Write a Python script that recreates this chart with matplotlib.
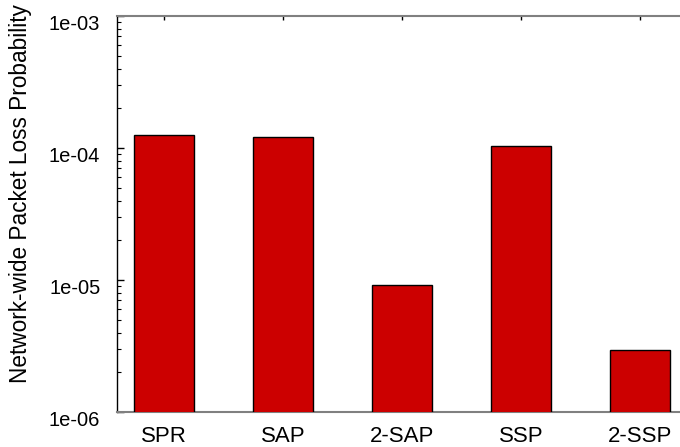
import matplotlib
matplotlib.use("Agg")
import matplotlib.pyplot as plt
import matplotlib.ticker as mticker
import matplotlib.transforms as mtrans
import numpy as np

plt.rcParams["font.family"] = ["Liberation Sans", "DejaVu Sans"]

# packet loss per routing scheme
schemes = ["SPR", "SAP", "2-SAP", "SSP", "2-SSP"]
loss = [1.25e-4, 1.21e-4, 9.2e-6, 1.04e-4, 2.95e-6]

fig = plt.figure(figsize=(6.8, 4.47), dpi=100)
ax = fig.add_axes([117 / 680, 35 / 447, 1 - 117 / 680, 396 / 447])

x = np.arange(len(schemes))
ax.bar(x, loss, width=0.5, color="#cc0000", edgecolor="black", linewidth=1.0,
       zorder=3)

ax.set_yscale("log")
ax.set_ylim(1e-6, 1e-3)
ax.set_xlim(-0.395, 4.336)

ax.yaxis.set_major_locator(mticker.LogLocator(base=10))
ax.yaxis.set_minor_locator(mticker.LogLocator(base=10, subs=np.arange(2, 10)))
ax.yaxis.set_major_formatter(mticker.FuncFormatter(lambda v, p: "%.0e" % v))
ax.yaxis.set_minor_formatter(mticker.NullFormatter())

ax.set_xticks(x)
ax.set_xticklabels(schemes)

# spines
ax.spines["right"].set_visible(False)
ax.spines["left"].set_color("black")
ax.spines["left"].set_linewidth(1.0)
for s in ("top", "bottom"):
    ax.spines[s].set_color("#808080")
    ax.spines[s].set_linewidth(1.5)

ax.tick_params(axis="y", which="major", direction="in", length=5, width=1,
               labelsize=14.5, pad=12, color="black")
ax.tick_params(axis="y", which="minor", direction="in", length=3, width=0.8,
               color="black")
ax.tick_params(axis="x", which="major", direction="in", length=3, width=1,
               top=True, bottom=False, labelsize=16, pad=10, color="black")

# tick labels sit slightly below their ticks
shift = mtrans.ScaledTranslation(0, -7 / 100, fig.dpi_scale_trans)
for lab in ax.get_yticklabels():
    lab.set_transform(lab.get_transform() + shift)

fig.text(21 / 680, 1 - 193.5 / 447, "Network-wide Packet Loss Probability",
         rotation=90, ha="center", va="center", fontsize=16.3)

fig.savefig("out.png", dpi=100)
